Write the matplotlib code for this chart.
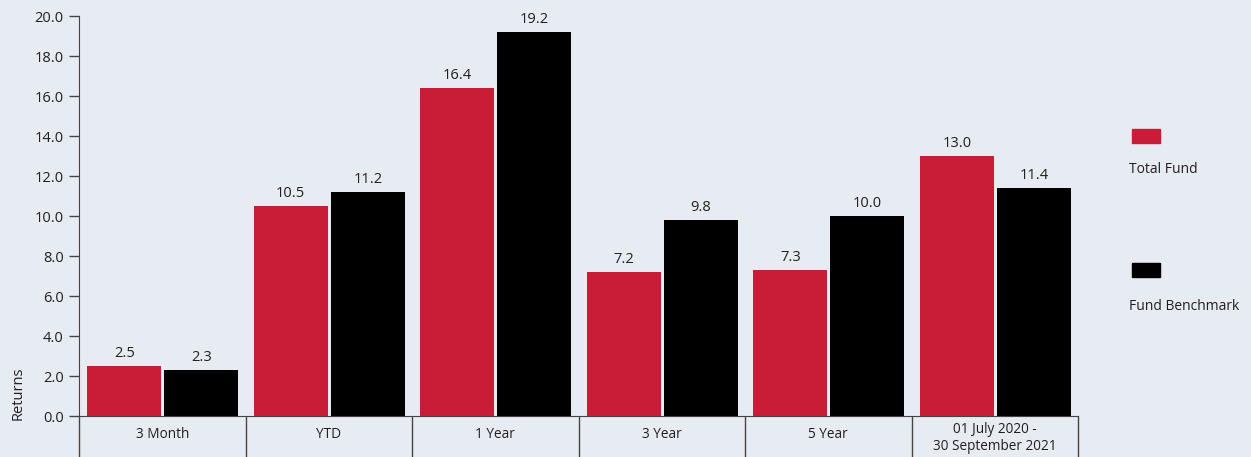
import numpy as np
import matplotlib.pyplot as plt

categories = ['3 Month', 'YTD', '1 Year', '3 Year', '5 Year', '01 July 2020 -\n30 September 2021']
total_fund = [2.5, 10.5, 16.4, 7.2, 7.3, 13.0]
benchmark = [2.3, 11.2, 19.2, 9.8, 10.0, 11.4]
y_ticks = np.arange(0, 21, 2)

bg = '#e7ebf2'
red = '#c91d37'
txt = '#231f20'

plt.rcParams['font.family'] = ['Open Sans', 'DejaVu Sans']

W, H = 1251, 457
fig = plt.figure(figsize=(W / 100, H / 100), dpi=100, facecolor=bg)
ax = fig.add_axes([79 / W, 41 / H, (1078 - 79) / W, (416 - 16) / H], facecolor=bg)

x = np.arange(len(categories))
bw = 0.445
b1 = ax.bar(x - 0.228, total_fund, bw, color=red)
b2 = ax.bar(x + 0.235, benchmark, bw, color='black')
for bars, vals in ((b1, total_fund), (b2, benchmark)):
    for b, v in zip(bars, vals):
        ax.text(b.get_x() + b.get_width() / 2, v + 0.25, f'{v:.1f}',
                ha='center', va='bottom', fontsize=10.5, color=txt)

ax.set_xlim(-0.5, len(categories) - 0.5)
ax.set_ylim(0, 20)
ax.set_yticks(y_ticks)
ax.set_yticklabels([f'{t:.1f}' for t in y_ticks], fontsize=10.5, color=txt)
ax.tick_params(axis='y', length=7, width=1, color='#444444', pad=4)
ax.set_xticks([])
for s in ['top', 'right']:
    ax.spines[s].set_visible(False)
ax.spines['left'].set_color('#444444')
ax.spines['bottom'].set_color('#444444')

# category boxes under the axis
bound = np.arange(len(categories) + 1) - 0.5
ax.vlines(bound, -41 / 400, 0, transform=ax.get_xaxis_transform(),
          color='#444444', lw=1, clip_on=False)
for i, c in enumerate(categories):
    ax.text(i, -0.045 if '\n' not in c else -0.055, c, transform=ax.get_xaxis_transform(),
            ha='center', va='center', fontsize=9.8, color=txt, linespacing=1.15)

fig.text(18 / W, 1 - 393 / H, 'Returns', rotation=90, ha='center', va='center',
         fontsize=10.5, color=txt)

# legend
fig.patches.append(plt.Rectangle((1132 / W, 1 - 143 / H), 28 / W, 14 / H,
                                 transform=fig.transFigure, color=red))
fig.text(1129 / W, 1 - 170 / H, 'Total Fund', ha='left', va='center', fontsize=10, color=txt)
fig.patches.append(plt.Rectangle((1132 / W, 1 - 277 / H), 28 / W, 14 / H,
                                 transform=fig.transFigure, color='black'))
fig.text(1129 / W, 1 - 307 / H, 'Fund Benchmark', ha='left', va='center', fontsize=10, color=txt)

fig.savefig('out.png', dpi=100, facecolor=bg)
